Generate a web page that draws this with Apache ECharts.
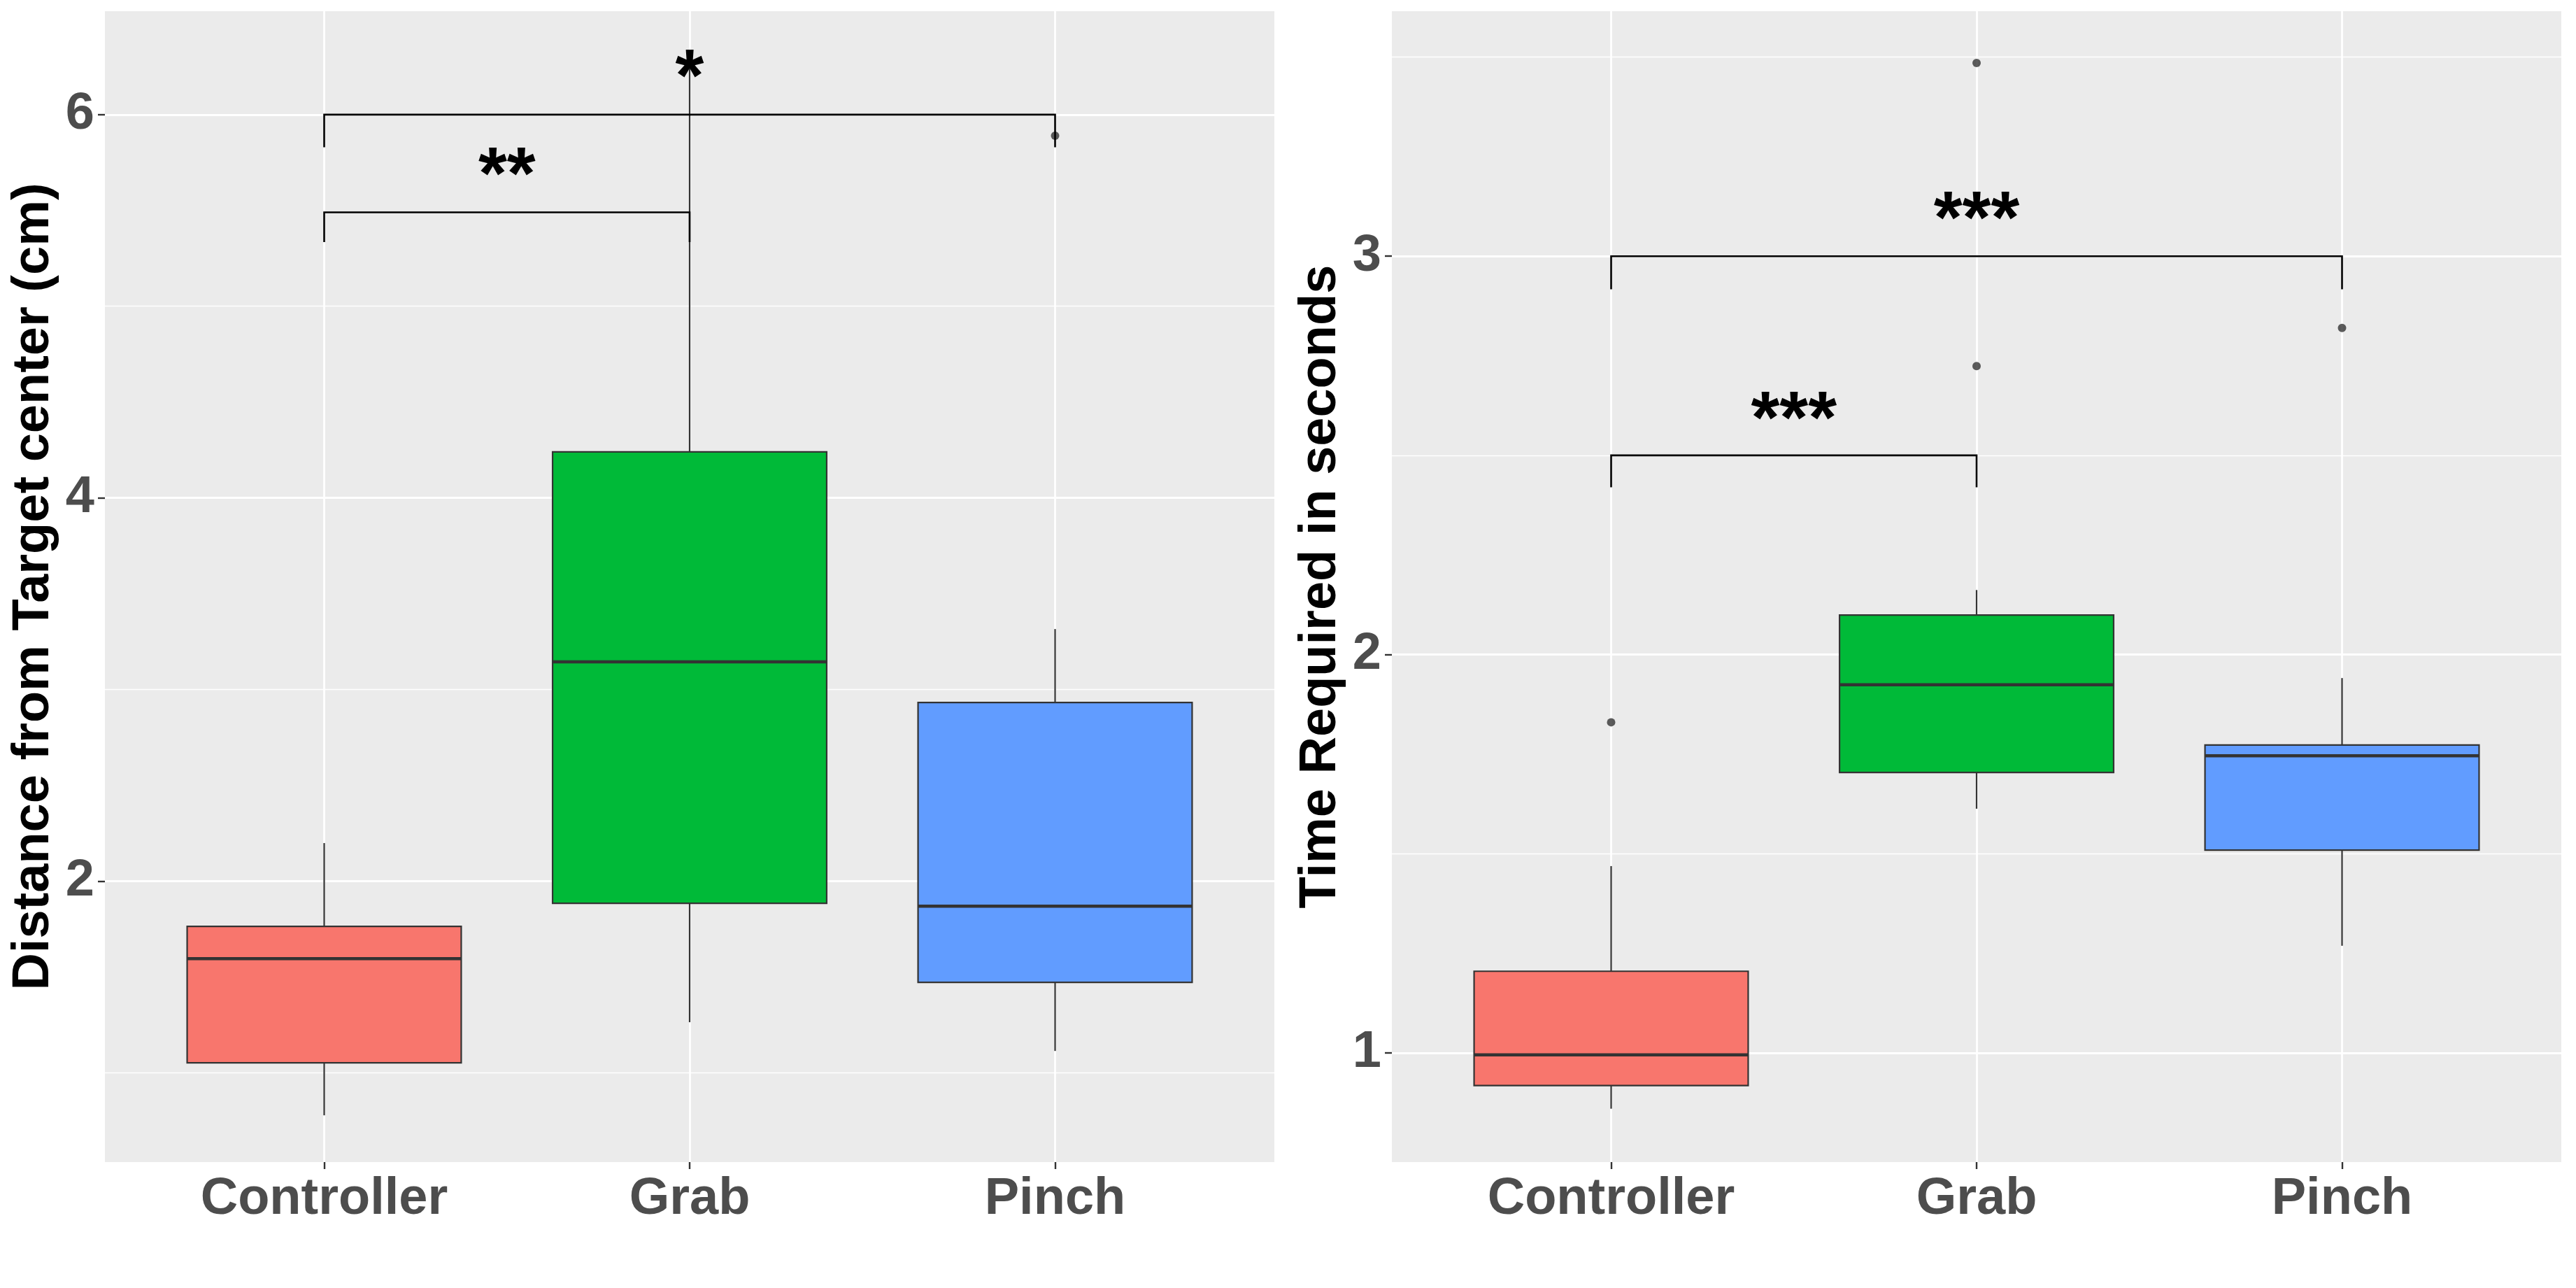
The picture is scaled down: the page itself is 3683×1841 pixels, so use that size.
<!DOCTYPE html>
<html>
<head>
<meta charset="utf-8">
<title>Distance and time by technique</title>
<script src="https://cdn.jsdelivr.net/npm/echarts@6/dist/echarts.min.js"></script>
<style>
  html, body { margin: 0; padding: 0; background: #fff; }
  #main { width: 3683px; height: 1841px; }
</style>
</head>
<body>
<div id="main"></div>
<script>
// categories and colours
const categories = ['Controller', 'Grab', 'Pinch'];
const fills = ['#F8766D', '#00BA38', '#619CFF'];

// left panel: distance from target center (cm)
const distLow = [0.777, 1.263, 1.113];
const distQ1 = [1.051, 1.884, 1.471];
const distMedian = [1.595, 3.144, 1.869];
const distQ3 = [1.763, 4.24, 2.932];
const distHigh = [2.198, 6.33, 3.315];
const distOutlierCat = ['Pinch'];
const distOutlierVal = [5.89];
const distTicks = [2, 4, 6];
const distMinor = [1, 3, 5];
// brackets: from, to, bar height, drop end, stars, star height
const distBrFrom = ['Controller', 'Controller'];
const distBrTo = ['Grab', 'Pinch'];
const distBrY = [5.49, 6.0];
const distBrDrop = [5.335, 5.83];
const distBrText = ['**', '*'];
const distBrTextY = [5.76, 6.27];

// right panel: time required in seconds
const timeLow = [0.86, 1.613, 1.269];
const timeQ1 = [0.918, 1.704, 1.509];
const timeMedian = [0.995, 1.924, 1.746];
const timeQ3 = [1.205, 2.099, 1.773];
const timeHigh = [1.469, 2.162, 1.941];
const timeOutlierCat = ['Controller', 'Grab', 'Grab', 'Pinch'];
const timeOutlierVal = [1.83, 3.485, 2.724, 2.82];
const timeTicks = [1, 2, 3];
const timeMinor = [1.5, 2.5, 3.5];
const timeBrFrom = ['Controller', 'Controller'];
const timeBrTo = ['Grab', 'Pinch'];
const timeBrY = [2.5, 3.0];
const timeBrDrop = [2.42, 2.917];
const timeBrText = ['***', '***'];
const timeBrTextY = [2.626, 3.128];

const FONT = '"Liberation Sans", Arial, sans-serif';
const STAR_SIZE = 105;

function catPos(name) {
  return categories.indexOf(name) + 1;
}

var myChart = echarts.init(document.getElementById('main'));

function boxData(low, q1, med, q3, high) {
  return categories.map(function (c, i) {
    return [i + 1, low[i], q1[i], med[i], q3[i], high[i]];
  });
}

function renderBox(params, api) {
  const x = api.value(0);
  const pLow = api.coord([x, api.value(1)]);
  const pQ1 = api.coord([x, api.value(2)]);
  const pMed = api.coord([x, api.value(3)]);
  const pQ3 = api.coord([x, api.value(4)]);
  const pHigh = api.coord([x, api.value(5)]);
  const half = api.size([0.75, 0])[0] / 2;
  const ln = { stroke: '#333333', lineWidth: 2.2 };
  return {
    type: 'group',
    children: [
      { type: 'line', shape: { x1: pHigh[0], y1: pHigh[1], x2: pQ3[0], y2: pQ3[1] }, style: ln },
      { type: 'line', shape: { x1: pLow[0], y1: pLow[1], x2: pQ1[0], y2: pQ1[1] }, style: ln },
      {
        type: 'rect',
        shape: { x: pQ1[0] - half, y: pQ3[1], width: half * 2, height: pQ1[1] - pQ3[1] },
        style: { fill: fills[params.dataIndex], stroke: '#333333', lineWidth: 2.2 }
      },
      { type: 'line', shape: { x1: pMed[0] - half, y1: pMed[1], x2: pMed[0] + half, y2: pMed[1] }, style: { stroke: '#333333', lineWidth: 4.5 } }
    ]
  };
}

function bracketData(from, to, y, drop, ty) {
  return from.map(function (f, i) {
    return [catPos(f), catPos(to[i]), y[i], drop[i], ty[i]];
  });
}

function makeBracketRender(texts) {
  return function (params, api) {
    const x1 = api.value(0), x2 = api.value(1);
    const y = api.value(2), drop = api.value(3);
    const a = api.coord([x1, drop]);
    const b = api.coord([x1, y]);
    const c = api.coord([x2, y]);
    const d = api.coord([x2, drop]);
    const t = api.coord([(x1 + x2) / 2, api.value(4)]);
    return {
      type: 'group',
      children: [
        {
          type: 'polyline',
          shape: { points: [a, b, c, d] },
          style: { stroke: '#000', lineWidth: 2.6, fill: null }
        },
        {
          type: 'text',
          x: t[0],
          y: t[1] + STAR_SIZE * 0.24,
          style: {
            text: texts[params.dataIndex],
            font: 'bold ' + STAR_SIZE + 'px ' + FONT,
            fill: '#000',
            align: 'center',
            verticalAlign: 'middle'
          }
        }
      ]
    };
  };
}

function gridLines(major, minor) {
  const d = [];
  minor.forEach(function (v) { d.push({ yAxis: v, lineStyle: { width: 1.4 } }); });
  major.forEach(function (v) { d.push({ yAxis: v, lineStyle: { width: 2.8 } }); });
  [1, 2, 3].forEach(function (v) { d.push({ xAxis: v, lineStyle: { width: 2.8 } }); });
  return {
    silent: true,
    symbol: 'none',
    z: 1,
    label: { show: false },
    lineStyle: { color: '#ffffff', type: 'solid' },
    data: d
  };
}

function xAxisOpt(gi) {
  return {
    type: 'value',
    gridIndex: gi,
    min: 0.4,
    max: 3.6,
    axisLine: { show: false },
    splitLine: { show: false },
    axisTick: { show: true, customValues: [1, 2, 3], length: 10, lineStyle: { color: '#333333', width: 2.4 } },
    axisLabel: {
      customValues: [1, 2, 3],
      formatter: function (v) { return categories[Math.round(v) - 1]; },
      color: '#4D4D4D',
      fontSize: 74,
      fontWeight: 'bold',
      fontFamily: FONT,
      margin: 17
    }
  };
}

function yAxisOpt(gi, min, max, ticks, name) {
  return {
    type: 'value',
    gridIndex: gi,
    min: min,
    max: max,
    name: name,
    nameLocation: 'middle',
    nameRotate: 90,
    nameGap: 64,
    nameTextStyle: { color: '#000', fontSize: 74, fontWeight: 'bold', fontFamily: FONT },
    axisLine: { show: false },
    splitLine: { show: false },
    axisTick: { show: true, customValues: ticks, length: 10, lineStyle: { color: '#333333', width: 2.4 } },
    axisLabel: {
      customValues: ticks,
      color: '#4D4D4D',
      fontSize: 74,
      fontWeight: 'bold',
      fontFamily: FONT,
      margin: 15
    }
  };
}

function outliers(cats, vals) {
  return cats.map(function (c, i) { return [catPos(c), vals[i]]; });
}

var option = {
  backgroundColor: '#ffffff',
  animation: false,
  grid: [
    { left: 150, right: 1861, top: 16, bottom: 180, show: true, backgroundColor: '#EBEBEB', borderWidth: 0 },
    { left: 1990, right: 21, top: 16, bottom: 180, show: true, backgroundColor: '#EBEBEB', borderWidth: 0 }
  ],
  xAxis: [xAxisOpt(0), xAxisOpt(1)],
  yAxis: [
    yAxisOpt(0, 0.533, 6.54, distTicks, 'Distance from Target center (cm)'),
    yAxisOpt(1, 0.726, 3.615, timeTicks, 'Time Required in seconds')
  ],
  series: [
    {
      type: 'custom',
      xAxisIndex: 0, yAxisIndex: 0,
      z: 3,
      renderItem: renderBox,
      encode: { x: 0, y: [1, 2, 3, 4, 5] },
      data: boxData(distLow, distQ1, distMedian, distQ3, distHigh),
      markLine: gridLines(distTicks, distMinor)
    },
    {
      type: 'scatter',
      xAxisIndex: 0, yAxisIndex: 0,
      z: 4,
      symbolSize: 12,
      itemStyle: { color: '#333333' },
      data: outliers(distOutlierCat, distOutlierVal)
    },
    {
      type: 'custom',
      xAxisIndex: 0, yAxisIndex: 0,
      z: 5,
      renderItem: makeBracketRender(distBrText),
      encode: { x: [0, 1], y: [2, 3, 4] },
      data: bracketData(distBrFrom, distBrTo, distBrY, distBrDrop, distBrTextY)
    },
    {
      type: 'custom',
      xAxisIndex: 1, yAxisIndex: 1,
      z: 3,
      renderItem: renderBox,
      encode: { x: 0, y: [1, 2, 3, 4, 5] },
      data: boxData(timeLow, timeQ1, timeMedian, timeQ3, timeHigh),
      markLine: gridLines(timeTicks, timeMinor)
    },
    {
      type: 'scatter',
      xAxisIndex: 1, yAxisIndex: 1,
      z: 4,
      symbolSize: 12,
      itemStyle: { color: '#333333' },
      data: outliers(timeOutlierCat, timeOutlierVal)
    },
    {
      type: 'custom',
      xAxisIndex: 1, yAxisIndex: 1,
      z: 5,
      renderItem: makeBracketRender(timeBrText),
      encode: { x: [0, 1], y: [2, 3, 4] },
      data: bracketData(timeBrFrom, timeBrTo, timeBrY, timeBrDrop, timeBrTextY)
    }
  ]
};

myChart.setOption(option);
</script>
</body>
</html>
